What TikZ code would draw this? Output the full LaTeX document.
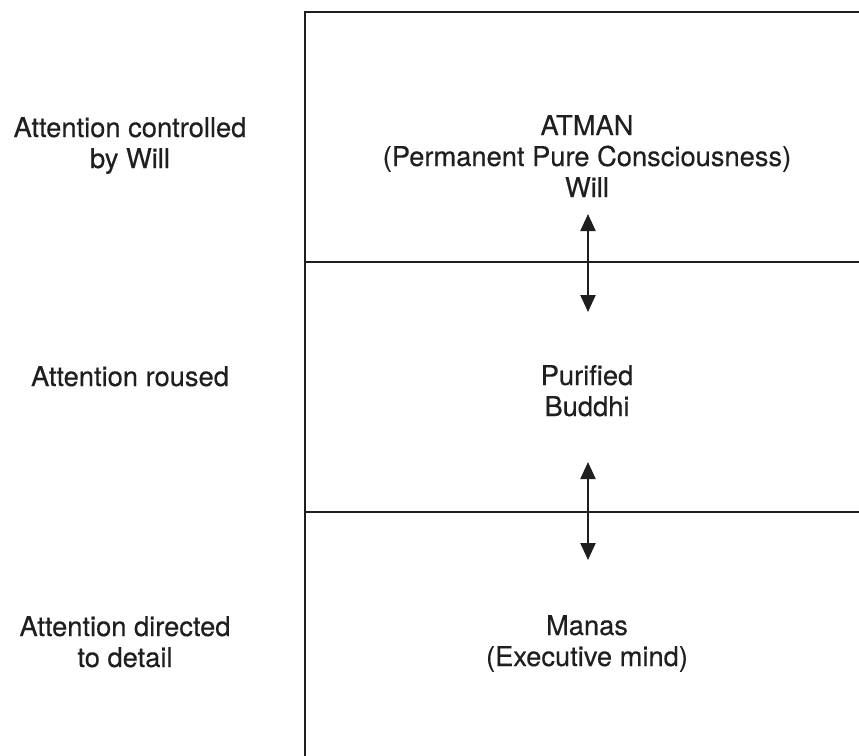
\documentclass[tikz,border=0pt]{standalone}
\usepackage{fontspec}
\setmainfont{TeX Gyre Heros}[FakeBold=0.35]
\usetikzlibrary{arrows.meta}
\begin{document}
\begin{tikzpicture}[x=1pt,y=-1pt,
  frame/.style={line width=2.6pt,color=black!88},
  twoway/.style={line width=2.2pt,color=black!88,{Triangle[length=17pt,width=15pt]}-{Triangle[length=17pt,width=15pt]}},
  lbl/.style={align=center,inner sep=0pt,font=\fontsize{27.3}{31}\selectfont,text=black!88,anchor=base}]
\useasboundingbox (0,0) rectangle (859,755);
% frame
\coordinate (tl) at (305,12);
\coordinate (tr) at (870,12);
\coordinate (bl) at (305,770);
\coordinate (m1l) at (305,262);
\coordinate (m1r) at (870,262);
\coordinate (m2l) at (305,512);
\coordinate (m2r) at (870,512);
\draw[frame] (tr) -- (tl) -- (bl);
\draw[frame] (m1l) -- (m1r);
\draw[frame] (m2l) -- (m2r);
% arrows
\coordinate (a1t) at (588,214);
\coordinate (a1b) at (588,312);
\coordinate (a2t) at (588,462);
\coordinate (a2b) at (588,560);
\draw[twoway] (a1t) -- (a1b);
\draw[twoway] (a2t) -- (a2b);
% texts (anchor = baseline of the last line)
\node[lbl] (atman) at (587,197) {ATMAN\\(Permanent Pure Consciousness)\\Will};
\node[lbl] (buddhi) at (587,416) {Purified\\Buddhi};
\node[lbl] (manas) at (587,666) {Manas\\(Executive mind)};
\node[lbl] (will) at (130,168) {Attention controlled\\by Will};
\node[lbl] (roused) at (130,386) {Attention roused};
\node[lbl] (detail) at (125,667) {Attention directed\\to detail};
\end{tikzpicture}
\end{document}
